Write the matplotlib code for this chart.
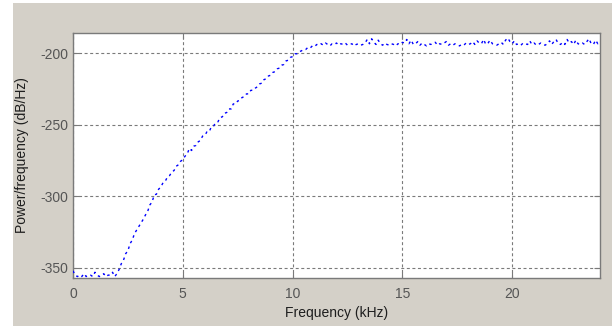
import numpy as np
import matplotlib
matplotlib.use("Agg")
import matplotlib.pyplot as plt
from matplotlib.patches import Rectangle

# Power spectral density estimate, 0.1 kHz bins from 0 to 24 kHz
floor_db = [-352, -355, -356, -355, -356, -354, -356, -355, -355, -356,
            -353, -355, -356, -355, -354, -356, -355, -355, -353, -356, -354]
rise_db = [-351, -347, -344.5, -340, -338, -333, -330.5, -326, -323.5, -321,
           -318.5, -316, -313, -310.5, -306, -304, -299, -298.5, -295, -293.5]
slope_db = [-290.5, -289.5, -286.5, -285.5, -283, -282, -279, -278, -275.5, -274.5,
            -272, -270.5, -266.5, -268, -265, -264.5, -262, -261, -258, -257.5,
            -255, -255, -251.5, -251, -248.5, -248, -245, -244.5, -242, -241.5,
            -239, -239, -235.5, -235.5, -233.5, -233, -231, -230.5, -228.5, -228.5,
            -226, -226, -224.5, -223.5, -221.5, -221, -218.5, -218, -216, -215.5,
            -213.5, -213, -211, -210.5, -208.5, -208, -205.5, -205, -203, -202.5]
knee_db = [-200.5, -200.5, -199, -198.5, -197.5, -197.5, -196, -196.5, -195, -195.5,
           -194, -194.5]
plateau_db = [-193.5, -194.5, -193, -194, -195, -193.5, -194, -193, -194.5, -193.5,
              -194, -193, -194.5, -194, -193.5, -195, -194, -193.5, -194.5, -194,
              -193, -190.5, -193.5, -190, -192.5, -194, -191, -193.5, -194.5, -193,
              -194, -194.5, -193.5, -194, -195, -193.5, -194, -192.5, -193, -190.5,
              -193.5, -191, -194, -193.5, -192, -194.5, -193, -194, -195, -193.5,
              -194, -193, -192.5, -194.5, -193.5, -194, -193, -192, -194.5, -193.5,
              -194.5, -193.5, -194, -195, -194, -194.5, -193, -194, -193.5, -192,
              -194, -191.5, -193, -193.5, -190.5, -194, -193, -191, -193.5, -194,
              -194.5, -193.5, -192.5, -194, -191, -189.5, -192, -193.5, -191.5, -194,
              -193.5, -194.5, -193, -193.5, -194, -191.5, -194, -193, -194.5, -194,
              -193, -194, -194.5, -193.5, -191.5, -194, -192, -190.5, -193.5, -194,
              -192.5, -194, -190.5, -193, -192, -194, -191, -193.5, -194, -193,
              -194, -192, -190, -193.5, -194, -191, -193.5, -191.5]

psd_db = np.array(floor_db + rise_db + slope_db + knee_db + plateau_db)
freq_khz = np.arange(len(psd_db)) * 0.1

x_ticks = [0, 5, 10, 15, 20]
y_ticks = [-350, -300, -250, -200]

W, H = 612, 326
fig = plt.figure(figsize=(W / 100, H / 100), dpi=100)
fig.patch.set_facecolor("white")
fig.add_artist(Rectangle((13 / W, 0), 1 - 13 / W, 1 - 3 / H,
                         transform=fig.transFigure, facecolor="#d4d0c8",
                         edgecolor="none", zorder=-5))

ax = fig.add_axes([73 / W, (H - 278) / H, 527 / W, 245 / H])
ax.set_facecolor("white")

ax.plot(freq_khz, psd_db, color="#0000ff", lw=1.0,
        linestyle=(0, (1.8, 2.6)), zorder=3)

ax.set_xlim(0, 24)
ax.set_ylim(-357, -186)
ax.set_xticks(x_ticks)
ax.set_yticks(y_ticks)
ax.set_xticklabels([str(t) for t in x_ticks])
ax.set_yticklabels([str(t) for t in y_ticks])

ax.grid(True, color="#7a7a7a", lw=0.8, linestyle=(0, (2.7, 2.3)))
ax.set_axisbelow(True)

for s in ax.spines.values():
    s.set_color("#7a7a7a")
    s.set_linewidth(1.0)

font = "Liberation Sans"
ax.tick_params(axis="both", direction="in", length=4, width=0.8,
               color="#7a7a7a", top=True, right=True,
               labelsize=10, labelcolor="#555555")
ax.tick_params(axis="x", pad=6.5)
ax.tick_params(axis="y", pad=3.5)
for lab in ax.get_xticklabels() + ax.get_yticklabels():
    lab.set_fontfamily(font)

ax.set_xlabel("Frequency (kHz)", fontsize=10, family=font, color="#1e1e1e",
              va="center")
ax.xaxis.set_label_coords(0.5, -0.143)
ax.set_ylabel("Power/frequency (dB/Hz)", fontsize=10, family=font,
              color="#1e1e1e", va="center")
ax.yaxis.set_label_coords(-0.097, 0.5)

fig.savefig("out.png", dpi=100)
